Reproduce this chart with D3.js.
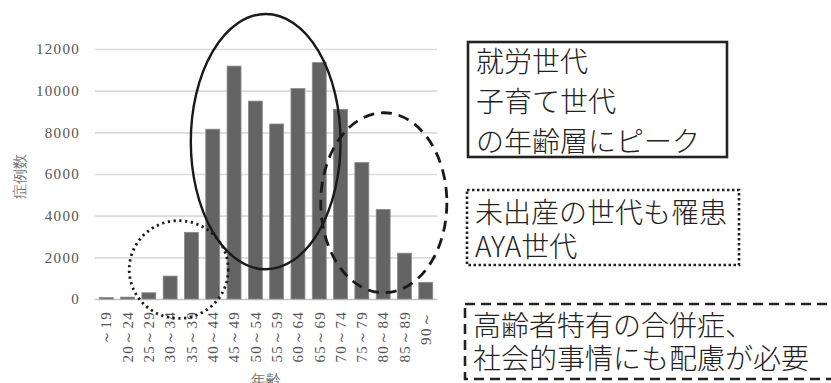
<!DOCTYPE html>
<html>
<head>
<meta charset="utf-8">
<script src="https://cdn.jsdelivr.net/npm/d3@7"></script>
<style>
  body { margin: 0; background: #fff; }
  svg { display: block; }
  .serif { font-family: "Liberation Serif", "DejaVu Serif", serif; }
</style>
</head>
<body>
<div id="chart"></div>
<script>
// age groups and case counts
const ageGroups = ["～19", "20～24", "25～29", "30～34", "35～39", "40～44", "45～49", "50～54",
  "55～59", "60～64", "65～69", "70～74", "75～79", "80～84", "85～89", "90～"]
const caseCounts = [70, 90, 300, 1100, 3200, 8150, 11180, 9500,
  8400, 10100, 11350, 9100, 6550, 4300, 2200, 800]
const yTicks = [0, 2000, 4000, 6000, 8000, 10000, 12000]
const yTitle = "症例数"
const xTitle = "年齢"

// ellipses, in category-index units (x) and case counts (y)
const ellipses = [
  {from: 3.97, to: 11.0, lo: 1430, hi: 13680, dash: null},
  {from: 1.08, to: 5.73, lo: -930, hi: 3760, dash: "2.2 3.6"},
  {from: 10.07, to: 15.99, lo: 300, hi: 8940, dash: "11 7"}
]

// text boxes to the right of the chart
const notes = [
  {lines: ["就労世代", "子育て世代", "の年齢層にピーク"], dash: null},
  {lines: ["未出産の世代も罹患", "AYA世代"], dash: "2.5 2.5"},
  {lines: ["高齢者特有の合併症、", "社会的事情にも配慮が必要"], dash: "10 6"}
]

const width = 831, height = 383
const plot = {left: 95, right: 437, top: 49, bottom: 299}

const svg = d3.select("#chart").append("svg")
  .attr("width", width)
  .attr("height", height)

const x = d3.scaleBand()
  .domain(ageGroups)
  .range([plot.left, plot.right])
  .paddingInner(0.345)
  .paddingOuter(0.2)

const y = d3.scaleLinear()
  .domain([0, 12000])
  .range([plot.bottom, plot.top])

// y axis + gridlines
const yAxis = svg.append("g")
  .attr("transform", `translate(${plot.left},0)`)
  .call(d3.axisLeft(y).tickValues(yTicks).tickFormat(d3.format("d"))
    .tickSize(-(plot.right - plot.left)).tickPadding(15))
yAxis.attr("font-family", null)
yAxis.select(".domain").remove()
yAxis.selectAll(".tick line")
  .attr("stroke", d => d === 0 ? "#c4c4c4" : "#dadada")
  .attr("stroke-width", 1.6)
yAxis.selectAll(".tick text")
  .attr("class", "serif")
  .attr("fill", "#555")
  .style("font-size", "15px")
  .style("letter-spacing", "1.3px")

// bars
svg.append("g")
  .selectAll("rect")
  .data(caseCounts)
  .enter().append("rect")
  .attr("x", (d, i) => x(ageGroups[i]))
  .attr("y", d => y(d))
  .attr("width", x.bandwidth())
  .attr("height", d => y(0) - y(d))
  .attr("fill", "#646464")
  .attr("stroke", "#8c8c8c")
  .attr("stroke-width", 0.8)

// x tick labels (rotated)
svg.append("g")
  .selectAll("text")
  .data(ageGroups)
  .enter().append("text")
  .attr("class", "serif")
  .attr("transform", d => `translate(${x(d) + x.bandwidth() / 2},311) rotate(-90)`)
  .attr("text-anchor", "end")
  .attr("dy", "0.35em")
  .attr("fill", "#555")
  .style("font-size", "15px")
  .style("letter-spacing", "1.3px")
  .text(d => d)

// axis titles
svg.append("text")
  .attr("class", "serif")
  .attr("transform", "translate(20,176) rotate(-90)")
  .attr("text-anchor", "middle")
  .attr("dy", "0.35em")
  .attr("fill", "#777")
  .style("font-size", "15px")
  .text(yTitle)

svg.append("text")
  .attr("class", "serif")
  .attr("x", (plot.left + plot.right) / 2)
  .attr("y", 385)
  .attr("text-anchor", "middle")
  .attr("fill", "#777")
  .style("font-size", "15px")
  .text(xTitle)

// ellipses
const xi = d3.scaleLinear()
  .domain([0, ageGroups.length - 1])
  .range([x(ageGroups[0]) + x.bandwidth() / 2, x(ageGroups[ageGroups.length - 1]) + x.bandwidth() / 2])

svg.append("g")
  .selectAll("ellipse")
  .data(ellipses)
  .enter().append("ellipse")
  .attr("cx", d => (xi(d.from) + xi(d.to)) / 2)
  .attr("cy", d => (y(d.lo) + y(d.hi)) / 2)
  .attr("rx", d => (xi(d.to) - xi(d.from)) / 2)
  .attr("ry", d => (y(d.lo) - y(d.hi)) / 2)
  .attr("fill", "none")
  .attr("stroke", "#1a1a1a")
  .attr("stroke-width", d => d.dash ? 2.8 : 2.4)
  .attr("stroke-dasharray", d => d.dash)

// note boxes
const boxes = [
  {x: 468, y: 42, w: 259, h: 115, top: 72, step: 40},
  {x: 467, y: 190, w: 272, h: 75, top: 223, step: 34},
  {x: 465, y: 304, w: 372, h: 75, top: 336, step: 33}
]

notes.forEach((n, k) => {
  const b = boxes[k]
  svg.append("rect")
    .attr("x", b.x).attr("y", b.y)
    .attr("width", b.w).attr("height", b.h)
    .attr("fill", "#fff")
    .attr("stroke", "#222")
    .attr("stroke-width", 2.6)
    .attr("stroke-dasharray", n.dash)
  const t = svg.append("text")
    .attr("fill", "#222")
    .style("font-family", "'Noto Sans CJK JP', sans-serif")
    .style("font-size", "28px")
    .style("font-weight", 300)
  t.selectAll("tspan")
    .data(n.lines)
    .enter().append("tspan")
    .attr("x", b.x + 8)
    .attr("y", (d, i) => b.top + i * b.step)
    .text(d => d)
})
</script>
</body>
</html>
